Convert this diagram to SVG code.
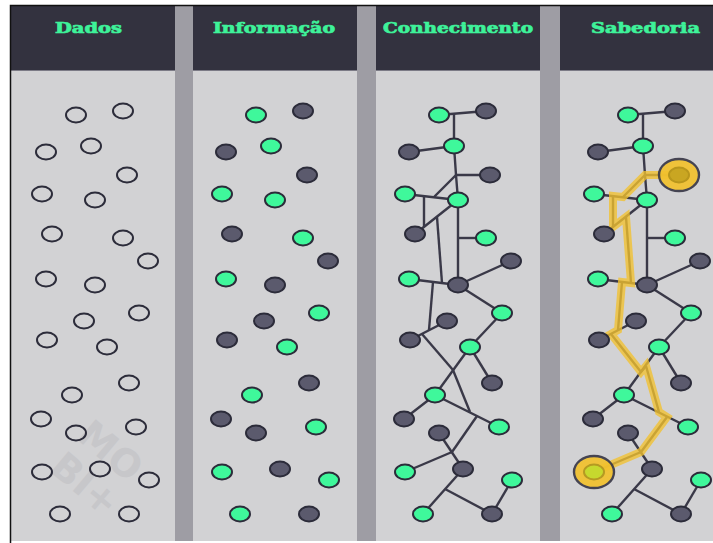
<svg xmlns="http://www.w3.org/2000/svg" width="713" height="543" viewBox="0 0 713 543">
  <style>
    .head { fill: #33323f; }
    .body { fill: #d2d2d4; }
    .gap { fill: #9e9da4; }
    .rule { stroke: #7c7b86; stroke-width: 1; }
    .title { font-family: "DejaVu Serif", "Liberation Serif", serif; font-weight: bold; font-size: 15px; fill: #3ef29a; stroke: #3ef29a; stroke-width: 0.7; text-anchor: middle; }
    .mark { font-family: "DejaVu Sans", "Liberation Sans", sans-serif; font-weight: bold; font-size: 38px; fill: #c7c7ca; text-anchor: middle; }
    .ring { fill: none; stroke: #2c2c3a; stroke-width: 2; }
    .g { fill: #3ff89b; stroke: #2c2c3a; stroke-width: 2; }
    .d { fill: #5b5a6d; stroke: #2c2c3a; stroke-width: 2; }
    .link { fill: none; stroke: #3a3948; stroke-width: 2.4; stroke-linejoin: round; }
    .trail { fill: none; stroke: #f2c12e; stroke-width: 8; opacity: 0.78; stroke-linejoin: miter; }
    .halo { fill: #f2c12e; opacity: 0.92; }
  </style>

  <!-- page and frame -->
  <rect x="0" y="0" width="713" height="543" fill="#ffffff"/>

  <!-- column panels -->
  <g id="panels">
    <rect class="body" x="11" y="6" width="164" height="535"/>
    <rect class="body" x="193" y="6" width="164" height="535"/>
    <rect class="body" x="376" y="6" width="164" height="535"/>
    <rect class="body" x="560" y="6" width="153" height="535"/>
    <rect class="gap" x="175" y="6" width="18" height="535"/>
    <rect class="gap" x="357" y="6" width="19" height="535"/>
    <rect class="gap" x="540" y="6" width="20" height="535"/>
    <rect class="head" x="11" y="6" width="164" height="64"/>
    <rect class="head" x="193" y="6" width="164" height="64"/>
    <rect class="head" x="376" y="6" width="164" height="64"/>
    <rect class="head" x="560" y="6" width="153" height="64"/>
    <line class="rule" x1="11" y1="70.5" x2="175" y2="70.5"/>
    <line class="rule" x1="193" y1="70.5" x2="357" y2="70.5"/>
    <line class="rule" x1="376" y1="70.5" x2="540" y2="70.5"/>
    <line class="rule" x1="560" y1="70.5" x2="713" y2="70.5"/>
  </g>

  <!-- watermark -->
  <g transform="translate(97,467) rotate(40)">
    <text class="mark" x="0" y="-8">MO</text>
    <text class="mark" x="2" y="34">BI+</text>
  </g>

  <!-- column titles -->
  <g id="titles">
    <text class="title" x="88.5" y="33" textLength="67" lengthAdjust="spacingAndGlyphs">Dados</text>
    <text class="title" x="274" y="33" textLength="122" lengthAdjust="spacingAndGlyphs">Informação</text>
    <text class="title" x="458" y="33" textLength="150" lengthAdjust="spacingAndGlyphs">Conhecimento</text>
    <text class="title" x="645.5" y="33" textLength="109" lengthAdjust="spacingAndGlyphs">Sabedoria</text>
  </g>

  <!-- connectors of the knowledge and wisdom columns -->
  <g id="connectors">
    <g id="links-c3" class="link" transform="translate(363,0)">
      <path d="M76,115 L123,111"/>
      <path d="M91,114 L91,146 L93,175 L95,200 L95,285"/>
      <path d="M46,152 L91,146"/>
      <path d="M93,175 L127,175"/>
      <path d="M93,175 L71,197"/>
      <path d="M42,194 L95,200"/>
      <path d="M61,196 L61,227"/>
      <path d="M95,200 L52,234"/>
      <path d="M74,217 L79,283"/>
      <path d="M95,238 L123,238"/>
      <path d="M46,279 L95,285"/>
      <path d="M95,285 L148,261"/>
      <path d="M70,282 L66,330"/>
      <path d="M47,340 L84,321"/>
      <path d="M59,334 L90,370"/>
      <path d="M95,285 L139,313"/>
      <path d="M139,313 L107,347"/>
      <path d="M107,347 L129,383"/>
      <path d="M107,347 L72,395"/>
      <path d="M90,370 L107,412"/>
      <path d="M72,395 L136,427"/>
      <path d="M72,395 L41,419"/>
      <path d="M114,416 L89,452"/>
      <path d="M76,433 L100,469"/>
      <path d="M89,452 L42,472"/>
      <path d="M100,469 L60,514"/>
      <path d="M82,489 L129,514"/>
      <path d="M129,514 L149,480"/>
    </g>
    <g id="links-c4" class="link" transform="translate(552,0)">
      <path d="M76,115 L123,111"/>
      <path d="M91,114 L91,146 L93,175 L95,200 L95,285"/>
      <path d="M46,152 L91,146"/>
      <path d="M93,175 L127,175"/>
      <path d="M93,175 L71,197"/>
      <path d="M42,194 L95,200"/>
      <path d="M61,196 L61,227"/>
      <path d="M95,200 L52,234"/>
      <path d="M74,217 L79,283"/>
      <path d="M95,238 L123,238"/>
      <path d="M46,279 L95,285"/>
      <path d="M95,285 L148,261"/>
      <path d="M70,282 L66,330"/>
      <path d="M47,340 L84,321"/>
      <path d="M59,334 L89,372 L94,366"/>
      <path d="M95,285 L139,313"/>
      <path d="M139,313 L107,347"/>
      <path d="M107,347 L129,383"/>
      <path d="M107,347 L72,395"/>
      <path d="M94,366 L107,412"/>
      <path d="M72,395 L136,427"/>
      <path d="M72,395 L41,419"/>
      <path d="M115,417 L89,452"/>
      <path d="M76,433 L100,469"/>
      <path d="M89,452 L42,472"/>
      <path d="M100,469 L60,514"/>
      <path d="M82,489 L129,514"/>
      <path d="M129,514 L149,480"/>
      <!-- highlighted route between the two marked points -->
      <path id="route" class="trail" d="M127,175 L93,175 L71,197 L61,196 L61,227 L74,217 L79,283 L70,282 L66,330 L59,334 L89,372 L94,366 L107,412 L115,417 L89,452 L42,472"/>
      <ellipse class="halo" cx="127" cy="175" rx="20" ry="16"/>
      <ellipse class="halo" cx="42" cy="472" rx="20" ry="16"/>
    </g>
  </g>

  <!-- Dados: empty rings -->
  <g id="col-dados">
    <g id="c1-n1"><ellipse class="ring" cx="76" cy="115" rx="10" ry="7.5"/></g>
    <g id="c1-n2"><ellipse class="ring" cx="123" cy="111" rx="10" ry="7.5"/></g>
    <g id="c1-n3"><ellipse class="ring" cx="46" cy="152" rx="10" ry="7.5"/></g>
    <g id="c1-n4"><ellipse class="ring" cx="91" cy="146" rx="10" ry="7.5"/></g>
    <g id="c1-n5"><ellipse class="ring" cx="127" cy="175" rx="10" ry="7.5"/></g>
    <g id="c1-n6"><ellipse class="ring" cx="42" cy="194" rx="10" ry="7.5"/></g>
    <g id="c1-n7"><ellipse class="ring" cx="95" cy="200" rx="10" ry="7.5"/></g>
    <g id="c1-n8"><ellipse class="ring" cx="52" cy="234" rx="10" ry="7.5"/></g>
    <g id="c1-n9"><ellipse class="ring" cx="123" cy="238" rx="10" ry="7.5"/></g>
    <g id="c1-n10"><ellipse class="ring" cx="148" cy="261" rx="10" ry="7.5"/></g>
    <g id="c1-n11"><ellipse class="ring" cx="46" cy="279" rx="10" ry="7.5"/></g>
    <g id="c1-n12"><ellipse class="ring" cx="95" cy="285" rx="10" ry="7.5"/></g>
    <g id="c1-n13"><ellipse class="ring" cx="139" cy="313" rx="10" ry="7.5"/></g>
    <g id="c1-n14"><ellipse class="ring" cx="84" cy="321" rx="10" ry="7.5"/></g>
    <g id="c1-n15"><ellipse class="ring" cx="47" cy="340" rx="10" ry="7.5"/></g>
    <g id="c1-n16"><ellipse class="ring" cx="107" cy="347" rx="10" ry="7.5"/></g>
    <g id="c1-n17"><ellipse class="ring" cx="129" cy="383" rx="10" ry="7.5"/></g>
    <g id="c1-n18"><ellipse class="ring" cx="72" cy="395" rx="10" ry="7.5"/></g>
    <g id="c1-n19"><ellipse class="ring" cx="41" cy="419" rx="10" ry="7.5"/></g>
    <g id="c1-n20"><ellipse class="ring" cx="76" cy="433" rx="10" ry="7.5"/></g>
    <g id="c1-n21"><ellipse class="ring" cx="136" cy="427" rx="10" ry="7.5"/></g>
    <g id="c1-n22"><ellipse class="ring" cx="42" cy="472" rx="10" ry="7.5"/></g>
    <g id="c1-n23"><ellipse class="ring" cx="100" cy="469" rx="10" ry="7.5"/></g>
    <g id="c1-n24"><ellipse class="ring" cx="149" cy="480" rx="10" ry="7.5"/></g>
    <g id="c1-n25"><ellipse class="ring" cx="60" cy="514" rx="10" ry="7.5"/></g>
    <g id="c1-n26"><ellipse class="ring" cx="129" cy="514" rx="10" ry="7.5"/></g>
  </g>

  <!-- Informação: coloured dots -->
  <g id="col-informacao" transform="translate(180,0)">
    <g id="c2-n1"><ellipse class="g" cx="76" cy="115" rx="10" ry="7.5"/></g>
    <g id="c2-n2"><ellipse class="d" cx="123" cy="111" rx="10" ry="7.5"/></g>
    <g id="c2-n3"><ellipse class="d" cx="46" cy="152" rx="10" ry="7.5"/></g>
    <g id="c2-n4"><ellipse class="g" cx="91" cy="146" rx="10" ry="7.5"/></g>
    <g id="c2-n5"><ellipse class="d" cx="127" cy="175" rx="10" ry="7.5"/></g>
    <g id="c2-n6"><ellipse class="g" cx="42" cy="194" rx="10" ry="7.5"/></g>
    <g id="c2-n7"><ellipse class="g" cx="95" cy="200" rx="10" ry="7.5"/></g>
    <g id="c2-n8"><ellipse class="d" cx="52" cy="234" rx="10" ry="7.5"/></g>
    <g id="c2-n9"><ellipse class="g" cx="123" cy="238" rx="10" ry="7.5"/></g>
    <g id="c2-n10"><ellipse class="d" cx="148" cy="261" rx="10" ry="7.5"/></g>
    <g id="c2-n11"><ellipse class="g" cx="46" cy="279" rx="10" ry="7.5"/></g>
    <g id="c2-n12"><ellipse class="d" cx="95" cy="285" rx="10" ry="7.5"/></g>
    <g id="c2-n13"><ellipse class="g" cx="139" cy="313" rx="10" ry="7.5"/></g>
    <g id="c2-n14"><ellipse class="d" cx="84" cy="321" rx="10" ry="7.5"/></g>
    <g id="c2-n15"><ellipse class="d" cx="47" cy="340" rx="10" ry="7.5"/></g>
    <g id="c2-n16"><ellipse class="g" cx="107" cy="347" rx="10" ry="7.5"/></g>
    <g id="c2-n17"><ellipse class="d" cx="129" cy="383" rx="10" ry="7.5"/></g>
    <g id="c2-n18"><ellipse class="g" cx="72" cy="395" rx="10" ry="7.5"/></g>
    <g id="c2-n19"><ellipse class="d" cx="41" cy="419" rx="10" ry="7.5"/></g>
    <g id="c2-n20"><ellipse class="d" cx="76" cy="433" rx="10" ry="7.5"/></g>
    <g id="c2-n21"><ellipse class="g" cx="136" cy="427" rx="10" ry="7.5"/></g>
    <g id="c2-n22"><ellipse class="g" cx="42" cy="472" rx="10" ry="7.5"/></g>
    <g id="c2-n23"><ellipse class="d" cx="100" cy="469" rx="10" ry="7.5"/></g>
    <g id="c2-n24"><ellipse class="g" cx="149" cy="480" rx="10" ry="7.5"/></g>
    <g id="c2-n25"><ellipse class="g" cx="60" cy="514" rx="10" ry="7.5"/></g>
    <g id="c2-n26"><ellipse class="d" cx="129" cy="514" rx="10" ry="7.5"/></g>
  </g>

  <!-- Conhecimento: connected dots -->
  <g id="col-conhecimento" transform="translate(363,0)">
    <g id="c3-n1"><ellipse class="g" cx="76" cy="115" rx="10" ry="7.5"/></g>
    <g id="c3-n2"><ellipse class="d" cx="123" cy="111" rx="10" ry="7.5"/></g>
    <g id="c3-n3"><ellipse class="d" cx="46" cy="152" rx="10" ry="7.5"/></g>
    <g id="c3-n4"><ellipse class="g" cx="91" cy="146" rx="10" ry="7.5"/></g>
    <g id="c3-n5"><ellipse class="d" cx="127" cy="175" rx="10" ry="7.5"/></g>
    <g id="c3-n6"><ellipse class="g" cx="42" cy="194" rx="10" ry="7.5"/></g>
    <g id="c3-n7"><ellipse class="g" cx="95" cy="200" rx="10" ry="7.5"/></g>
    <g id="c3-n8"><ellipse class="d" cx="52" cy="234" rx="10" ry="7.5"/></g>
    <g id="c3-n9"><ellipse class="g" cx="123" cy="238" rx="10" ry="7.5"/></g>
    <g id="c3-n10"><ellipse class="d" cx="148" cy="261" rx="10" ry="7.5"/></g>
    <g id="c3-n11"><ellipse class="g" cx="46" cy="279" rx="10" ry="7.5"/></g>
    <g id="c3-n12"><ellipse class="d" cx="95" cy="285" rx="10" ry="7.5"/></g>
    <g id="c3-n13"><ellipse class="g" cx="139" cy="313" rx="10" ry="7.5"/></g>
    <g id="c3-n14"><ellipse class="d" cx="84" cy="321" rx="10" ry="7.5"/></g>
    <g id="c3-n15"><ellipse class="d" cx="47" cy="340" rx="10" ry="7.5"/></g>
    <g id="c3-n16"><ellipse class="g" cx="107" cy="347" rx="10" ry="7.5"/></g>
    <g id="c3-n17"><ellipse class="d" cx="129" cy="383" rx="10" ry="7.5"/></g>
    <g id="c3-n18"><ellipse class="g" cx="72" cy="395" rx="10" ry="7.5"/></g>
    <g id="c3-n19"><ellipse class="d" cx="41" cy="419" rx="10" ry="7.5"/></g>
    <g id="c3-n20"><ellipse class="d" cx="76" cy="433" rx="10" ry="7.5"/></g>
    <g id="c3-n21"><ellipse class="g" cx="136" cy="427" rx="10" ry="7.5"/></g>
    <g id="c3-n22"><ellipse class="g" cx="42" cy="472" rx="10" ry="7.5"/></g>
    <g id="c3-n23"><ellipse class="d" cx="100" cy="469" rx="10" ry="7.5"/></g>
    <g id="c3-n24"><ellipse class="g" cx="149" cy="480" rx="10" ry="7.5"/></g>
    <g id="c3-n25"><ellipse class="g" cx="60" cy="514" rx="10" ry="7.5"/></g>
    <g id="c3-n26"><ellipse class="d" cx="129" cy="514" rx="10" ry="7.5"/></g>
  </g>

  <!-- Sabedoria: connected dots with a marked route -->
  <g id="col-sabedoria" transform="translate(552,0)">
    <g id="c4-n1"><ellipse class="g" cx="76" cy="115" rx="10" ry="7.5"/></g>
    <g id="c4-n2"><ellipse class="d" cx="123" cy="111" rx="10" ry="7.5"/></g>
    <g id="c4-n3"><ellipse class="d" cx="46" cy="152" rx="10" ry="7.5"/></g>
    <g id="c4-n4"><ellipse class="g" cx="91" cy="146" rx="10" ry="7.5"/></g>
    <g id="c4-n5"><ellipse cx="127" cy="175" rx="10" ry="7.5" fill="#c9a622" stroke="#b8961c" stroke-width="2"/></g>
    <g id="c4-n6"><ellipse class="g" cx="42" cy="194" rx="10" ry="7.5"/></g>
    <g id="c4-n7"><ellipse class="g" cx="95" cy="200" rx="10" ry="7.5"/></g>
    <g id="c4-n8"><ellipse class="d" cx="52" cy="234" rx="10" ry="7.5"/></g>
    <g id="c4-n9"><ellipse class="g" cx="123" cy="238" rx="10" ry="7.5"/></g>
    <g id="c4-n10"><ellipse class="d" cx="148" cy="261" rx="10" ry="7.5"/></g>
    <g id="c4-n11"><ellipse class="g" cx="46" cy="279" rx="10" ry="7.5"/></g>
    <g id="c4-n12"><ellipse class="d" cx="95" cy="285" rx="10" ry="7.5"/></g>
    <g id="c4-n13"><ellipse class="g" cx="139" cy="313" rx="10" ry="7.5"/></g>
    <g id="c4-n14"><ellipse class="d" cx="84" cy="321" rx="10" ry="7.5"/></g>
    <g id="c4-n15"><ellipse class="d" cx="47" cy="340" rx="10" ry="7.5"/></g>
    <g id="c4-n16"><ellipse class="g" cx="107" cy="347" rx="10" ry="7.5"/></g>
    <g id="c4-n17"><ellipse class="d" cx="129" cy="383" rx="10" ry="7.5"/></g>
    <g id="c4-n18"><ellipse class="g" cx="72" cy="395" rx="10" ry="7.5"/></g>
    <g id="c4-n19"><ellipse class="d" cx="41" cy="419" rx="10" ry="7.5"/></g>
    <g id="c4-n20"><ellipse class="d" cx="76" cy="433" rx="10" ry="7.5"/></g>
    <g id="c4-n21"><ellipse class="g" cx="136" cy="427" rx="10" ry="7.5"/></g>
    <g id="c4-n22"><ellipse cx="42" cy="472" rx="10" ry="7.5" fill="#c6d92e" stroke="#b59a22" stroke-width="2"/></g>
    <g id="c4-n23"><ellipse class="d" cx="100" cy="469" rx="10" ry="7.5"/></g>
    <g id="c4-n24"><ellipse class="g" cx="149" cy="480" rx="10" ry="7.5"/></g>
    <g id="c4-n25"><ellipse class="g" cx="60" cy="514" rx="10" ry="7.5"/></g>
    <g id="c4-n26"><ellipse class="d" cx="129" cy="514" rx="10" ry="7.5"/></g>
  </g>

  <!-- outer frame -->
  <path d="M10.5,543 L10.5,5.5 L713,5.5" fill="none" stroke="#111111" stroke-width="1.5"/>
</svg>
